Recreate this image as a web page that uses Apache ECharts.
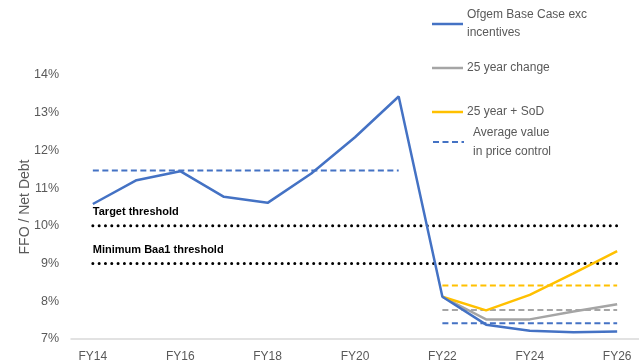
<!DOCTYPE html>
<html>
<head>
<meta charset="utf-8">
<script src="https://cdn.jsdelivr.net/npm/echarts@6/dist/echarts.min.js"></script>
<style>
  html, body { margin: 0; padding: 0; background: #fff; }
  #chart { width: 639px; height: 363px; }
</style>
</head>
<body>
<div id="chart"></div>
<script>
// Fiscal years on the category axis
const years = ['FY14','FY15','FY16','FY17','FY18','FY19','FY20','FY21','FY22','FY23','FY24','FY25','FY26'];

// FFO / Net Debt, in percent
const baseCase     = [10.58, 11.21, 11.45, 10.77, 10.61, 11.39, 12.35, 13.43, 8.12, 7.38, 7.22, 7.18, 7.20];
const change25     = ['-', '-', '-', '-', '-', '-', '-', '-', 8.12, 7.52, 7.52, 7.73, 7.92];
const change25SoD  = ['-', '-', '-', '-', '-', '-', '-', '-', 8.12, 7.76, 8.17, 8.74, 9.33];

// Averages over each price control period
const avgBaseEarly = [11.47, 11.47, 11.47, 11.47, 11.47, 11.47, 11.47, 11.47, '-', '-', '-', '-', '-'];
const avgBaseLate  = ['-', '-', '-', '-', '-', '-', '-', '-', 7.42, 7.42, 7.42, 7.42, 7.42];
const avgChange    = ['-', '-', '-', '-', '-', '-', '-', '-', 7.77, 7.77, 7.77, 7.77, 7.77];
const avgSoD       = ['-', '-', '-', '-', '-', '-', '-', '-', 8.42, 8.42, 8.42, 8.42, 8.42];

// Rating thresholds
const targetThreshold = [10, 10, 10, 10, 10, 10, 10, 10, 10, 10, 10, 10, 10];
const minimumBaa1     = [9, 9, 9, 9, 9, 9, 9, 9, 9, 9, 9, 9, 9];

const BLUE = '#4472C4', GREY = '#A5A5A5', GOLD = '#FFC000', TEXT = '#595959';
const FONT = '"Liberation Sans", Arial, sans-serif';

function dashed(name, data, color) {
  return {
    name, type: 'line', data, symbol: 'none', silent: true,
    lineStyle: { color, width: 2, type: [6, 3.5] }, z: 2
  };
}

// Dotted threshold line with its caption sitting above the first point
function threshold(name, values, caption) {
  return {
    name, type: 'line', silent: true,
    symbol: 'circle', symbolSize: 0.1, showSymbol: true,
    itemStyle: { color: 'rgba(0,0,0,0)' },
    lineStyle: { color: '#000', width: 3, type: [0.01, 6.3], cap: 'round' },
    z: 1,
    emphasis: { disabled: true },
    data: values.map((v, i) => i === 0 ? {
      value: v,
      label: {
        show: true, formatter: caption, position: 'top', align: 'left',
        distance: 8, fontFamily: FONT, fontSize: 11, fontWeight: 'bold', color: '#000'
      }
    } : v)
  };
}

const chart = echarts.init(document.getElementById('chart'), null, { renderer: 'canvas' });

chart.setOption({
  animation: false,
  grid: { left: 71, right: 0, top: 75, bottom: 22, containLabel: false },
  xAxis: {
    type: 'category', data: years, boundaryGap: true,
    axisLine: { lineStyle: { color: '#D9D9D9', width: 1.5 } },
    axisTick: { show: false },
    axisLabel: { interval: 1, color: TEXT, fontFamily: FONT, fontSize: 12, margin: 12 }
  },
  yAxis: {
    type: 'value', min: 7, max: 14, interval: 1,
    name: 'FFO / Net Debt', nameLocation: 'middle', nameGap: 39, nameRotate: 90,
    nameMoveOverlap: false,
    nameTextStyle: { color: TEXT, fontFamily: FONT, fontSize: 14 },
    splitLine: { show: false },
    axisLine: { show: false }, axisTick: { show: false },
    axisLabel: { formatter: '{value}%', color: TEXT, fontFamily: FONT, fontSize: 12.5, margin: 12 }
  },
  series: [
    threshold('Target threshold', targetThreshold, 'Target threshold'),
    threshold('Minimum Baa1 threshold', minimumBaa1, 'Minimum Baa1 threshold'),
    dashed('Average value in price control', avgBaseEarly, BLUE),
    dashed('Average (base, RIIO-2)', avgBaseLate, BLUE),
    dashed('Average (25 year change)', avgChange, GREY),
    dashed('Average (25 year + SoD)', avgSoD, GOLD),
    { name: '25 year change', type: 'line', data: change25, symbol: 'none',
      lineStyle: { color: GREY, width: 2.5 }, z: 3 },
    { name: '25 year + SoD', type: 'line', data: change25SoD, symbol: 'none',
      lineStyle: { color: GOLD, width: 2.5 }, z: 3 },
    { name: 'Ofgem Base Case exc incentives', type: 'line', data: baseCase, symbol: 'none',
      lineStyle: { color: BLUE, width: 2.5 }, z: 4 }
  ],
  graphic: [
    // legend keys
    { type: 'line', shape: { x1: 432, y1: 24, x2: 463, y2: 24 }, style: { stroke: BLUE, lineWidth: 2.5 } },
    { type: 'text', style: { x: 467, y: 24, text: 'Ofgem Base Case exc\nincentives', fill: TEXT, font: '12px ' + FONT, verticalAlign: 'middle', lineHeight: 18 } },
    { type: 'line', shape: { x1: 432, y1: 68, x2: 463, y2: 68 }, style: { stroke: GREY, lineWidth: 2.5 } },
    { type: 'text', style: { x: 467, y: 68, text: '25 year change', fill: TEXT, font: '12px ' + FONT, verticalAlign: 'middle' } },
    { type: 'line', shape: { x1: 432, y1: 112, x2: 463, y2: 112 }, style: { stroke: GOLD, lineWidth: 2.5 } },
    { type: 'text', style: { x: 467, y: 112, text: '25 year + SoD', fill: TEXT, font: '12px ' + FONT, verticalAlign: 'middle' } },
    { type: 'line', shape: { x1: 433, y1: 142, x2: 464, y2: 142 }, style: { stroke: BLUE, lineWidth: 2, lineDash: [6, 3.5] } },
    { type: 'text', style: { x: 473, y: 142, text: 'Average value\nin price control', fill: TEXT, font: '12px ' + FONT, verticalAlign: 'middle', lineHeight: 19 } }
  ]
});
</script>
</body>
</html>
